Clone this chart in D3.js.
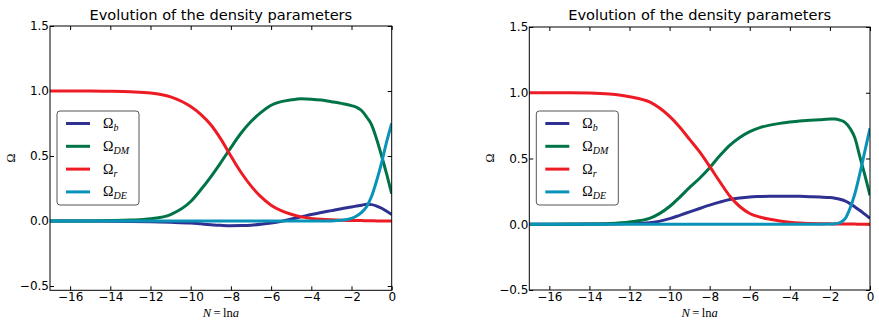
<!DOCTYPE html>
<html>
<head>
<meta charset="utf-8">
<script src="https://cdn.jsdelivr.net/npm/d3@7"></script>
<style>
  body { margin: 0; background: #fff; }
  svg { display: block; }
  .tick text { font-family: "DejaVu Sans", sans-serif; font-size: 12px; fill: #000; }
  .title { font-family: "DejaVu Sans", sans-serif; font-size: 14.6px; }
  .math { font-family: "Liberation Serif", "DejaVu Serif", serif; }
</style>
</head>
<body>
<div id="chart"></div>
<script>
// N = ln a grid (shared by every curve)
var nGrid = [-17, -16, -15, -14, -13, -12, -11, -10, -9.5, -9, -8.5, -8, -7.5, -7, -6.5, -6,
  -5.5, -5, -4.5, -4, -3.5, -3, -2.5, -2, -1.75, -1.5, -1.25, -1, -0.75, -0.5, -0.25, 0];

// left panel
var leftB = [0, 0, 0, -0.001, -0.003, -0.006, -0.01, -0.016, -0.022, -0.028, -0.033, -0.036, -0.035, -0.032, -0.025, -0.016,
  -0.003, 0.015, 0.032, 0.05, 0.065, 0.08, 0.095, 0.108, 0.115, 0.122, 0.128, 0.126, 0.115, 0.098, 0.075, 0.05];
var leftDM = [0, 0.0005, 0.001, 0.003, 0.007, 0.017, 0.05, 0.15, 0.24, 0.34, 0.45, 0.565, 0.675, 0.765, 0.835, 0.89,
  0.918, 0.932, 0.94, 0.937, 0.93, 0.918, 0.905, 0.888, 0.875, 0.85, 0.80, 0.74, 0.63, 0.50, 0.36, 0.21];
var leftR = [1.0, 1.0, 1.0, 0.998, 0.994, 0.985, 0.955, 0.88, 0.82, 0.74, 0.63, 0.50, 0.375, 0.27, 0.185, 0.122,
  0.08, 0.052, 0.032, 0.02, 0.013, 0.009, 0.006, 0.004, 0.003, 0.003, 0.002, 0.002, 0.001, 0.001, 0.001, 0.001];
var leftDE = [0, 0, 0, 0, 0, 0, 0, 0, 0, 0, 0, 0, 0, 0, 0, 0,
  0, 0, 0, 0, 0, 0.001, 0.005, 0.02, 0.038, 0.066, 0.11, 0.19, 0.31, 0.45, 0.61, 0.75];

// right panel
var rightB = [0, 0, 0, 0.001, 0.002, 0.005, 0.012, 0.043, 0.068, 0.094, 0.12, 0.145, 0.168, 0.188, 0.2, 0.208,
  0.211, 0.213, 0.213, 0.213, 0.212, 0.21, 0.207, 0.203, 0.198, 0.19, 0.177, 0.157, 0.132, 0.105, 0.075, 0.045];
var rightDM = [0, 0, 0.001, 0.002, 0.006, 0.018, 0.045, 0.135, 0.205, 0.28, 0.35, 0.43, 0.52, 0.60, 0.66, 0.705,
  0.735, 0.754, 0.767, 0.777, 0.785, 0.79, 0.795, 0.80, 0.80, 0.792, 0.775, 0.73, 0.655, 0.51, 0.37, 0.22];
var rightR = [1.0, 1.0, 1.0, 0.998, 0.99, 0.97, 0.93, 0.82, 0.74, 0.645, 0.55, 0.44, 0.325, 0.215, 0.135, 0.082,
  0.055, 0.038, 0.025, 0.015, 0.009, 0.006, 0.004, 0.003, 0.002, 0.002, 0.001, 0.001, 0.001, 0, 0, 0];
var rightDE = [0, 0, 0, 0, 0, 0, 0, 0, 0, 0, 0, 0, 0, 0, 0, 0,
  0, 0, 0, 0, 0, 0, 0, 0.001, 0.003, 0.012, 0.04, 0.12, 0.235, 0.39, 0.56, 0.73];

var xTicks = [-16, -14, -12, -10, -8, -6, -4, -2, 0];
var yTicks = [-0.5, 0.0, 0.5, 1.0, 1.5];
var seriesSubs = ["b", "DM", "r", "DE"];
var colors = ["#2e3192", "#007446", "#ed1c24", "#0a93b8"];

var svg = d3.select("#chart").append("svg")
  .attr("width", 879)
  .attr("height", 321);

function drawPanel(id, left, right, top, bottom, yMin, series) {
  var g = svg.append("g");

  var x = d3.scaleLinear().domain([-17, 0]).range([left, right]);
  var y = d3.scaleLinear().domain([yMin, 1.5]).range([bottom, top]);

  g.append("clipPath").attr("id", "clip" + id)
    .append("rect")
    .attr("x", left).attr("y", top)
    .attr("width", right - left).attr("height", bottom - top);

  var fmtX = d => d < 0 ? "\u2212" + Math.abs(d) : String(d);
  var fmtY = d => (d < 0 ? "\u2212" : "") + Math.abs(d).toFixed(1);

  // axes with inward ticks, mirrored on top/right
  var bottomAxis = d3.axisBottom(x).tickValues(xTicks).tickSize(-4).tickPadding(2).tickFormat(fmtX);
  var topAxis = d3.axisTop(x).tickValues(xTicks).tickSize(-4).tickFormat("");
  var leftAxis = d3.axisLeft(y).tickValues(yTicks).tickSize(-4).tickPadding(1).tickFormat(fmtY);
  var rightAxis = d3.axisRight(y).tickValues(yTicks).tickSize(-4).tickFormat("");

  [
    [bottomAxis, `translate(0,${bottom})`],
    [topAxis, `translate(0,${top})`],
    [leftAxis, `translate(${left},0)`],
    [rightAxis, `translate(${right},0)`]
  ].forEach(function(a) {
    var ax = g.append("g").attr("transform", a[1]).call(a[0]);
    ax.select(".domain").remove();
    ax.selectAll(".tick line").attr("stroke", "#000");
  });

  // curves
  var line = d3.line()
    .x((d, i) => x(nGrid[i]))
    .y(d => y(d))
    .curve(d3.curveMonotoneX);

  var curves = g.append("g").attr("clip-path", `url(#clip${id})`);
  series.forEach(function(s, k) {
    curves.append("path")
      .attr("d", line(s))
      .attr("fill", "none")
      .attr("stroke", colors[k])
      .attr("stroke-width", 3)
      .attr("stroke-linejoin", "round");
  });

  // frame
  g.append("rect")
    .attr("x", left).attr("y", top)
    .attr("width", right - left).attr("height", bottom - top)
    .attr("fill", "none").attr("stroke", "#000").attr("stroke-width", 1);

  // title
  g.append("text")
    .attr("class", "title")
    .attr("x", (left + right) / 2).attr("y", 20)
    .attr("text-anchor", "middle")
    .text("Evolution of the density parameters");

  // y label
  g.append("text")
    .attr("class", "math")
    .attr("transform", `translate(${left - 35},158) rotate(-90)`)
    .attr("text-anchor", "middle")
    .attr("font-size", 12)
    .text("\u03A9");

  // x label
  var xl = g.append("text")
    .attr("class", "math")
    .attr("x", (left + right) / 2).attr("y", 317)
    .attr("text-anchor", "middle")
    .attr("font-size", 12.5);
  xl.append("tspan").attr("font-style", "italic").text("N");
  xl.append("tspan").text("\u2009=\u2009ln");
  xl.append("tspan").attr("font-style", "italic").text("a");

  // legend
  var lx = left + 7, ly = 111;
  var leg = g.append("g");
  leg.append("rect")
    .attr("x", lx).attr("y", ly)
    .attr("width", 82).attr("height", 94)
    .attr("rx", 3)
    .attr("fill", "#fff").attr("stroke", "#555").attr("stroke-width", 1);
  seriesSubs.forEach(function(sub, k) {
    var yy = ly + 12.5 + k * 22.8;
    leg.append("line")
      .attr("x1", lx + 9).attr("x2", lx + 33)
      .attr("y1", yy).attr("y2", yy)
      .attr("stroke", colors[k]).attr("stroke-width", 3);
    var t = leg.append("text")
      .attr("class", "math")
      .attr("x", lx + 46).attr("y", yy + 4.5)
      .attr("font-size", 14);
    t.append("tspan").text("\u03A9");
    t.append("tspan").attr("font-style", "italic").attr("font-size", 10).attr("dy", 3).text(sub);
  });
}

drawPanel("L", 50, 391.7, 26, 290.3, -0.533, [leftB, leftDM, leftR, leftDE]);
drawPanel("R", 529.3, 870, 27, 290, -0.5, [rightB, rightDM, rightR, rightDE]);
</script>
</body>
</html>
